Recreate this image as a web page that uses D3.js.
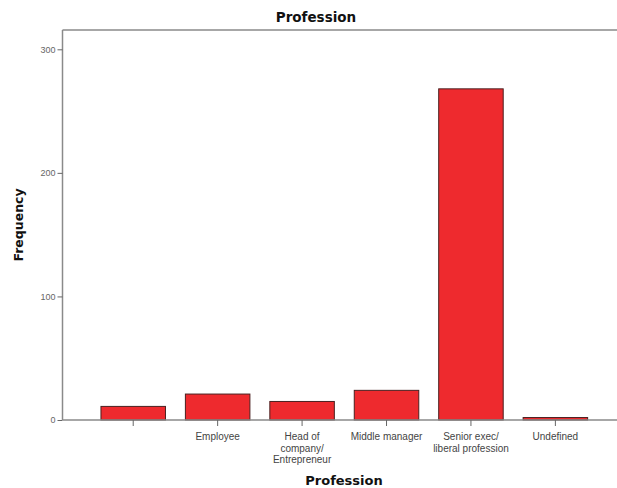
<!DOCTYPE html>
<html>
<head>
<meta charset="utf-8">
<script src="https://cdn.jsdelivr.net/npm/d3@7"></script>
<style>
  html, body { margin: 0; padding: 0; background: #fff; }
  svg { display: block; }
</style>
</head>
<body>
<svg id="chart" width="617" height="488"></svg>
<script>
const categories = ["", "Employee", "Head of\ncompany/\nEntrepreneur", "Middle manager", "Senior exec/\nliberal profession", "Undefined"];
const frequencies = [11, 21, 15, 24, 268, 2];
const yTicks = [0, 100, 200, 300];
const chartTitle = "Profession";
const xTitle = "Profession";
const yTitle = "Frequency";

(function () {
const svg = d3.select("#chart");
const W = 617, H = 488;
const frameLeft = 62.5, frameTop = 30, zeroY = 420;

const y = d3.scaleLinear().domain([0, 300]).range([zeroY, 49.3]);
const x = d3.scaleBand().domain(d3.range(categories.length)).range([91, 597.6])
  .paddingInner(0.236).paddingOuter(0.118);

// frame top line
svg.append("line").attr("x1", frameLeft).attr("x2", W).attr("y1", frameTop).attr("y2", frameTop)
  .attr("stroke", "#8a8a8a").attr("stroke-width", 1.5);

// bars
svg.append("g").selectAll("rect").data(frequencies).join("rect")
  .attr("x", (d, i) => x(i))
  .attr("width", x.bandwidth())
  .attr("y", d => y(d))
  .attr("height", d => y(0) - y(d))
  .attr("fill", "#ee2a2e")
  .attr("stroke", "#4a2020")
  .attr("stroke-width", 1);

// y axis
const yAxis = d3.axisLeft(y).tickValues(yTicks).tickSize(5).tickPadding(2);
const gy = svg.append("g").attr("transform", `translate(${frameLeft},0)`).call(yAxis);
gy.select(".domain").attr("d", `M0,${frameTop}V${zeroY}`).attr("stroke", "#8a8a8a").attr("stroke-width", 1.5);
gy.selectAll(".tick line").attr("stroke", "#666");
gy.selectAll(".tick text").attr("font-family", "Liberation Sans, Arial, sans-serif")
  .attr("font-size", 9).attr("fill", "#666");

// x axis
const xAxis = d3.axisBottom(x).tickSize(6).tickFormat(() => "");
const gx = svg.append("g").attr("transform", `translate(0,${zeroY})`).call(xAxis);
gx.select(".domain").attr("d", `M${frameLeft},0H${W}`).attr("stroke", "#8a8a8a").attr("stroke-width", 1.5);
gx.selectAll(".tick line").attr("stroke", "#666");

// multi-line category labels
gx.selectAll(".tick").each(function(d) {
  const lines = categories[d].split("\n");
  const t = d3.select(this).append("text")
    .attr("y", 20)
    .attr("text-anchor", "middle")
    .attr("font-family", "Liberation Sans, Arial, sans-serif")
    .attr("font-size", 10)
    .attr("fill", "#444");
  lines.forEach((ln, k) => {
    t.append("tspan").attr("x", 0).attr("dy", k === 0 ? 0 : 11.5).text(ln);
  });
});

// titles
svg.append("text").attr("x", 316).attr("y", 22).attr("text-anchor", "middle")
  .attr("font-family", "DejaVu Sans, sans-serif").attr("font-weight", "bold")
  .attr("font-size", 13.5).attr("fill", "#111").text(chartTitle);

svg.append("text").attr("x", 344).attr("y", 485).attr("text-anchor", "middle")
  .attr("font-family", "DejaVu Sans, sans-serif").attr("font-weight", "bold")
  .attr("font-size", 13).attr("fill", "#111").text(xTitle);

svg.append("text").attr("transform", "translate(23,225) rotate(-90)").attr("text-anchor", "middle")
  .attr("font-family", "DejaVu Sans, sans-serif").attr("font-weight", "bold")
  .attr("font-size", 12.5).attr("fill", "#111").text(yTitle);
})();
</script>
</body>
</html>
